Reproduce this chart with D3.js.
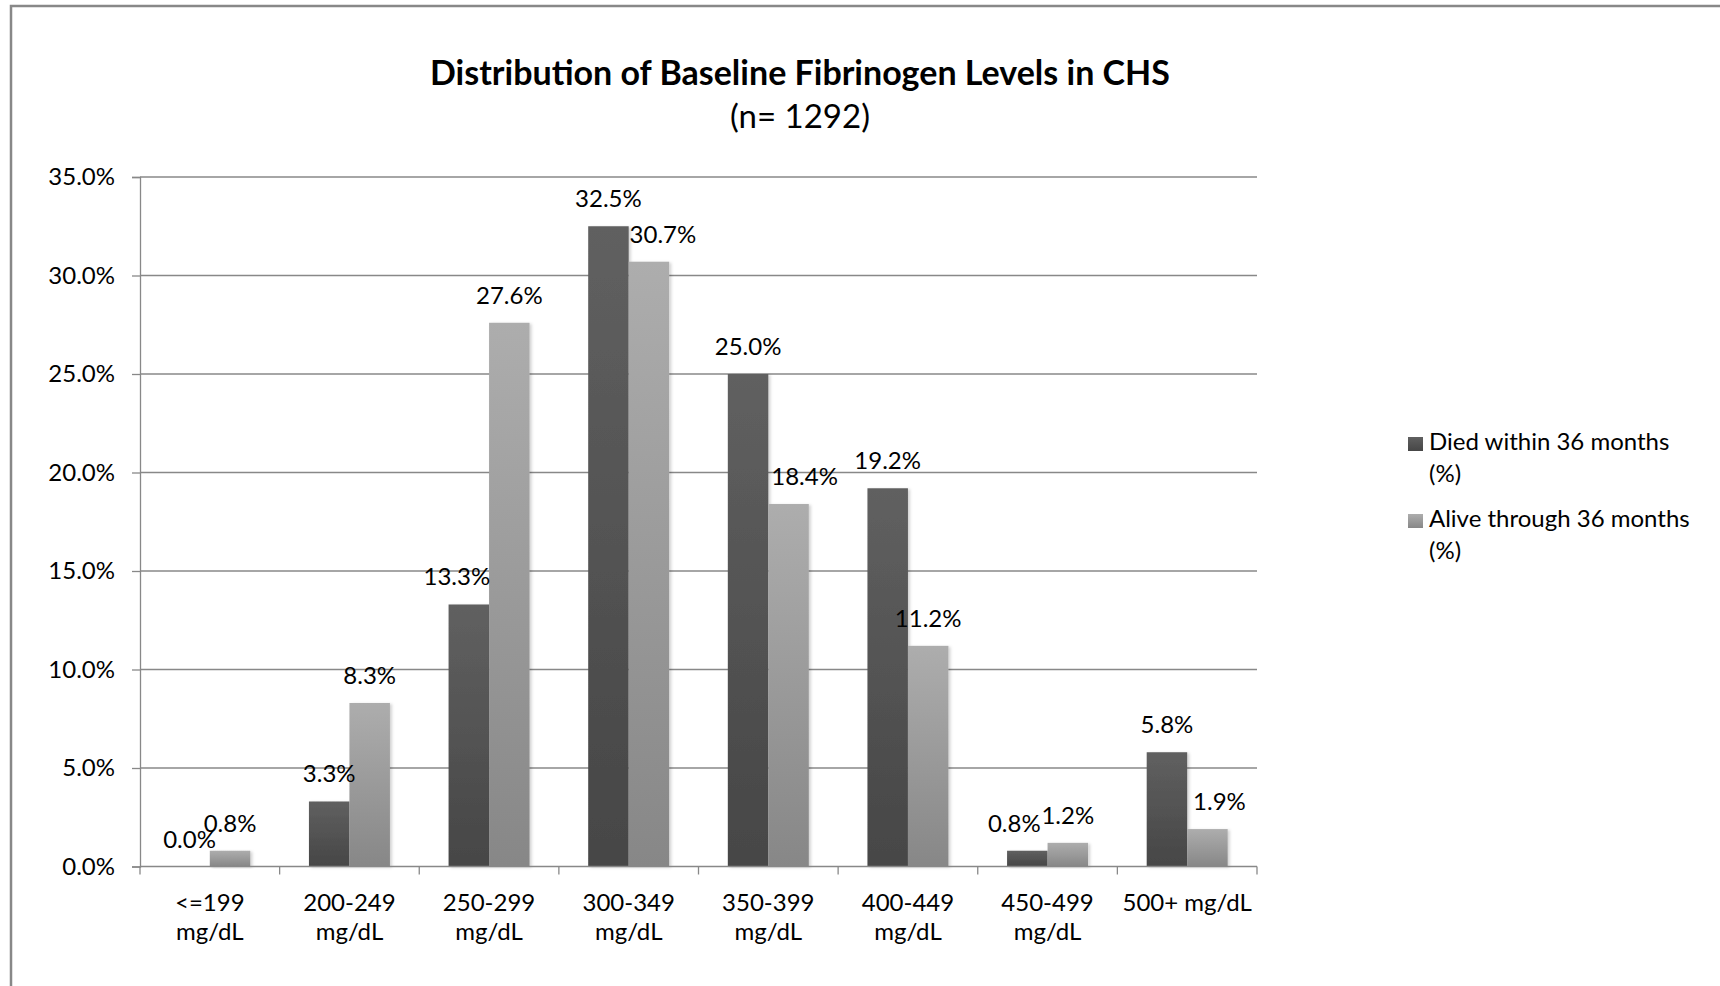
<!DOCTYPE html>
<html>
<head>
<meta charset="utf-8">
<script src="https://cdn.jsdelivr.net/npm/d3@7"></script>
<style>
  html, body { margin: 0; padding: 0; background: #fff; }
  svg { display: block; }
  text { font-family: Lato, "Open Sans", sans-serif; fill: #000; }
</style>
</head>
<body>
<svg id="chart" width="1720" height="986"></svg>
<script>
// ---- data ----
const categories = ["<=199|mg/dL", "200-249|mg/dL", "250-299|mg/dL", "300-349|mg/dL",
                    "350-399|mg/dL", "400-449|mg/dL", "450-499|mg/dL", "500+ mg/dL"];
const seriesNames = ["Died within 36 months|(%)", "Alive through 36 months|(%)"];
const died  = [0.0, 3.3, 13.3, 32.5, 25.0, 19.2, 0.8, 5.8];
const alive = [0.8, 8.3, 27.6, 30.7, 18.4, 11.2, 1.2, 1.9];
const yTicks = [0, 5, 10, 15, 20, 25, 30, 35];
const titleText = "Distribution of Baseline Fibrinogen Levels in CHS";
const subtitleText = "(n= 1292)";

// ---- layout (positions/styles) ----
const plot = { left: 140, right: 1257, top: 177, bottom: 866.5 };
const barFrac = 0.29;
const fs = 24;
// label horizontal nudges (Excel collision avoidance), [died, alive] per category
const labelNudge = [[0,0],[0,0],[-12,0],[0,14],[0,16],[0,0],[-13,0],[0,12]];
const grid = "#888888";

const svg = d3.select("#chart");
const defs = svg.append("defs");
function grad(id, top, bottom) {
  const g = defs.append("linearGradient").attr("id", id)
    .attr("x1", 0).attr("y1", 0).attr("x2", 0).attr("y2", 1);
  g.append("stop").attr("offset", "0%").attr("stop-color", top);
  g.append("stop").attr("offset", "100%").attr("stop-color", bottom);
}
grad("gDark", "#606060", "#464646");
grad("gLight", "#adadad", "#878787");
const f = defs.append("filter").attr("id", "shadow")
  .attr("x", "-20%").attr("y", "-5%").attr("width", "150%").attr("height", "115%");
f.append("feDropShadow").attr("dx", 2).attr("dy", 1).attr("stdDeviation", 1.5)
  .attr("flood-color", "#000").attr("flood-opacity", 0.18);

// outer border
svg.append("rect").attr("x", 11).attr("y", 6).attr("width", 1760).attr("height", 1060)
  .attr("fill", "none").attr("stroke", grid).attr("stroke-width", 2.5);

// title
svg.append("text").attr("x", 800).attr("y", 85).attr("text-anchor", "middle")
  .attr("font-weight", "bold").attr("font-size", 34).text(titleText);
svg.append("text").attr("x", 800).attr("y", 128).attr("text-anchor", "middle")
  .attr("font-size", 33).text(subtitleText);

// scales
const x = d3.scaleBand().domain(d3.range(categories.length))
  .range([plot.left, plot.right]).padding(0);
const y = d3.scaleLinear().domain([0, 35]).range([plot.bottom, plot.top]);
const bw = x.step() * barFrac;

// gridlines
svg.append("g").selectAll("line").data(yTicks.filter(d => d > 0)).join("line")
  .attr("x1", plot.left).attr("x2", plot.right)
  .attr("y1", d => y(d)).attr("y2", d => y(d))
  .attr("stroke", grid).attr("stroke-width", 1.3);

// y axis
const yAxis = svg.append("g").attr("transform", `translate(${plot.left},0)`)
  .call(d3.axisLeft(y).tickValues(yTicks).tickFormat(d => d.toFixed(1) + "%")
    .tickSize(8).tickPadding(17));
yAxis.select(".domain").attr("stroke", grid).attr("stroke-width", 1.3);
yAxis.selectAll(".tick line").attr("stroke", grid).attr("stroke-width", 1.3);
yAxis.selectAll(".tick text").attr("font-size", fs).attr("font-family", "Lato, sans-serif")
  .attr("fill", "#000");

// bars
const series = [died, alive];
const fills = ["url(#gDark)", "url(#gLight)"];
series.forEach((vals, s) => {
  svg.append("g").selectAll("rect").data(vals).join("rect")
    .attr("x", (d, i) => x(i) + x.step() / 2 - bw + s * bw)
    .attr("y", d => y(d))
    .attr("width", bw)
    .attr("height", d => y(0) - y(d))
    .attr("fill", fills[s])
    .attr("filter", d => d > 0 ? "url(#shadow)" : null);
});

// x axis
const xAxisG = svg.append("g");
xAxisG.append("line").attr("x1", plot.left).attr("x2", plot.right)
  .attr("y1", y(0)).attr("y2", y(0)).attr("stroke", grid).attr("stroke-width", 1.3);
const bounds = d3.range(categories.length + 1).map(i => plot.left + i * x.step());
xAxisG.selectAll("line.t").data(bounds).join("line").attr("class", "t")
  .attr("x1", d => d).attr("x2", d => d)
  .attr("y1", y(0)).attr("y2", y(0) + 8)
  .attr("stroke", grid).attr("stroke-width", 1.3);
categories.forEach((c, i) => {
  const lines = c.split("|");
  const t = xAxisG.append("text").attr("text-anchor", "middle").attr("font-size", fs)
    .attr("x", x(i) + x.step() / 2).attr("y", 911);
  lines.forEach((ln, k) => {
    t.append("tspan").attr("x", x(i) + x.step() / 2).attr("dy", k === 0 ? 0 : 29).text(ln);
  });
});

// value labels
series.forEach((vals, s) => {
  svg.append("g").selectAll("text").data(vals).join("text")
    .attr("text-anchor", "middle").attr("font-size", fs)
    .attr("x", (d, i) => x(i) + x.step() / 2 - bw / 2 + s * bw + labelNudge[i][s])
    .attr("y", d => y(d) - 19)
    .text(d => d.toFixed(1) + "%");
});

// legend
const legendY = [437, 514];
seriesNames.forEach((n, s) => {
  const g = svg.append("g");
  g.append("rect").attr("x", 1408).attr("y", legendY[s]).attr("width", 15).attr("height", 14)
    .attr("fill", fills[s]);
  const lines = n.split("|");
  const t = g.append("text").attr("font-size", fs).attr("x", 1429).attr("y", legendY[s] + 13);
  lines.forEach((ln, k) => {
    t.append("tspan").attr("x", 1429).attr("dy", k === 0 ? 0 : 32).text(ln);
  });
});
</script>
</body>
</html>
